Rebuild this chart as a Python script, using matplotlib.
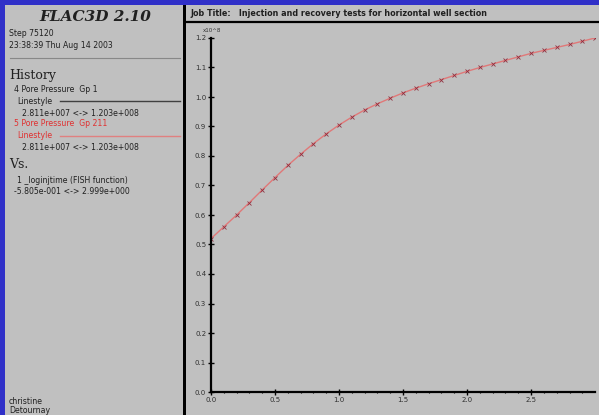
import matplotlib
matplotlib.use('Agg')
import matplotlib.pyplot as plt
from matplotlib.patches import Rectangle
from matplotlib.lines import Line2D

# history: pore pressure (x10^8) against log injection time
log_time = [0.00, 0.10, 0.20, 0.30, 0.40, 0.50, 0.60, 0.70, 0.80, 0.90,
            1.00, 1.10, 1.20, 1.30, 1.40, 1.50, 1.60, 1.70, 1.80, 1.90,
            2.00, 2.10, 2.20, 2.30, 2.40, 2.50, 2.60, 2.70, 2.80, 2.90, 2.999]
pore_pressure = [0.520, 0.560, 0.600, 0.642, 0.685, 0.727, 0.768, 0.806, 0.842, 0.875,
                 0.905, 0.932, 0.956, 0.977, 0.996, 1.014, 1.030, 1.045, 1.059, 1.073,
                 1.087, 1.100, 1.112, 1.124, 1.136, 1.148, 1.158, 1.168, 1.178, 1.189, 1.200]

x_ticks = [0.0, 0.5, 1.0, 1.5, 2.0, 2.5]
y_ticks = [0.0, 0.1, 0.2, 0.3, 0.4, 0.5, 0.6, 0.7, 0.8, 0.9, 1.0, 1.1, 1.2]

W, H = 599, 415
fig = plt.figure(figsize=(W / 100, H / 100), dpi=100)
fig.patch.set_facecolor('#3030c8')

def fx(x):
    return x / W

def fy(y):
    return 1 - y / H

grey = '#c0c0c0'
# left legend panel and right plot panel (kept behind the axes)
for x0, w, c in [(5, 178, grey), (183, 3, 'black'), (186, W - 186, grey)]:
    fig.patches.append(Rectangle((fx(x0), 0), fx(w), fy(5), transform=fig.transFigure,
                                 facecolor=c, edgecolor='none', zorder=-5))
fig.lines.append(Line2D([fx(186), 1], [fy(22.5), fy(22.5)], transform=fig.transFigure,
                        color='black', lw=1.6))
fig.lines.append(Line2D([fx(10), fx(180)], [fy(58), fy(58)], transform=fig.transFigure,
                        color='#888888', lw=0.8))

small = dict(fontsize=5.6, color='#202020', family='DejaVu Sans', va='center')
fig.text(fx(95), fy(17), 'FLAC3D 2.10', fontsize=11, fontweight='bold', style='italic',
         family='DejaVu Serif', ha='center', va='center', color='#202020')
fig.text(fx(9), fy(33), 'Step 75120', **small)
fig.text(fx(9), fy(45), '23:38:39 Thu Aug 14 2003', **small)
fig.text(fx(9), fy(75), 'History', fontsize=9, family='DejaVu Serif', va='center', color='#202020')
fig.text(fx(14), fy(90), '4 Pore Pressure  Gp 1', **small)
fig.text(fx(17), fy(101), 'Linestyle', **small)
fig.lines.append(Line2D([fx(60), fx(180)], [fy(101), fy(101)], transform=fig.transFigure,
                        color='#404040', lw=1.0))
fig.text(fx(22), fy(113), '2.811e+007 <-> 1.203e+008', **small)
red_small = dict(small, color='#e03030')
fig.text(fx(14), fy(124), '5 Pore Pressure  Gp 211', **red_small)
fig.text(fx(17), fy(136), 'Linestyle', **red_small)
fig.lines.append(Line2D([fx(60), fx(180)], [fy(136), fy(136)], transform=fig.transFigure,
                        color='#e08080', lw=1.0))
fig.text(fx(22), fy(147), '2.811e+007 <-> 1.203e+008', **small)
fig.text(fx(9), fy(164), 'Vs.', fontsize=9, family='DejaVu Serif', va='center', color='#202020')
fig.text(fx(17), fy(180), '1 _loginjtime (FISH function)', **small)
fig.text(fx(14), fy(191), '-5.805e-001 <-> 2.999e+000', **small)
fig.text(fx(9), fy(401), 'christine', **small)
fig.text(fx(9), fy(410), 'Detournay', **small)

fig.text(fx(190), fy(14), 'Job Title:   Injection and recovery tests for horizontal well section',
         fontsize=5.8, fontweight='bold', family='DejaVu Sans', va='center', color='#202020')

ax = fig.add_axes([fx(211), 1 - 392 / H, fx(595 - 211), (392 - 38) / H])
ax.set_zorder(5)
ax.set_facecolor('none')
ax.plot(log_time, pore_pressure, color='#e07878', lw=1.0)
ax.plot(log_time, pore_pressure, ls='none', marker='x', ms=2.5, mew=0.6, color='#903040')
ax.set_xlim(0, 2.999)
ax.set_ylim(0, 1.2)
ax.set_xticks(x_ticks)
ax.set_xticklabels(['%.1f' % v for v in x_ticks])
ax.set_xticks([i / 10 for i in range(30)], minor=True)
ax.set_yticks(y_ticks)
ax.set_yticklabels(['%.1f' % v for v in y_ticks])
for side in ['top', 'right']:
    ax.spines[side].set_visible(False)
for side in ['left', 'bottom']:
    ax.spines[side].set_linewidth(1.6)
ax.tick_params(axis='both', which='major', direction='inout', length=4, width=1.0,
               labelsize=5, labelcolor='#303030', pad=1.5)
ax.tick_params(axis='x', which='minor', direction='inout', length=2, width=0.8)
fig.text(fx(203), fy(31), 'x10^8', fontsize=4, color='#303030', va='center')

plt.savefig('out.png', dpi=100, facecolor=fig.get_facecolor())
